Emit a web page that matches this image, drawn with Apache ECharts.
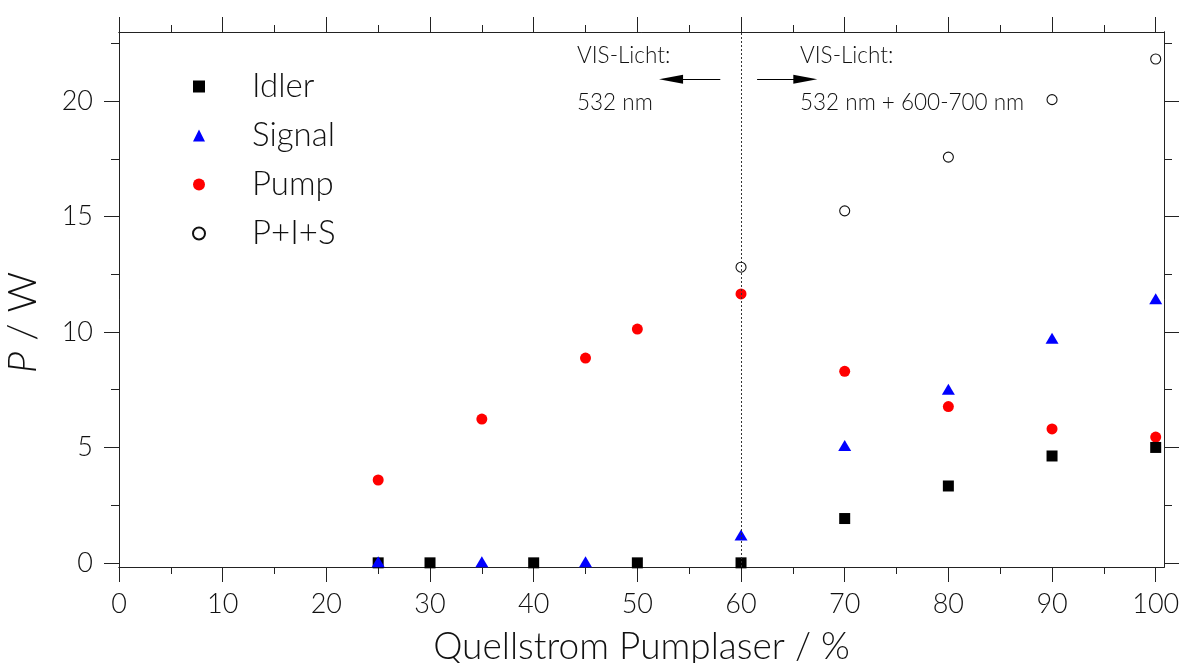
<!DOCTYPE html>
<html>
<head>
<meta charset="utf-8">
<script src="https://cdn.jsdelivr.net/npm/echarts@6/dist/echarts.min.js"></script>
<style>
html,body{margin:0;padding:0;background:#fff;}
#chart{width:1179px;height:663px;}
</style>
</head>
<body>
<div id="chart"></div>
<script>
// ---- data ----
const idlerX  = [25, 30, 40, 50, 60, 70, 80, 90, 100];
const idlerY  = [0, 0, 0, 0, 0, 1.92, 3.33, 4.63, 5.00];
const signalX = [25, 35, 45, 60, 70, 80, 90, 100];
const signalY = [0.05, 0.05, 0.05, 1.21, 5.08, 7.52, 9.73, 11.44];
const pumpX   = [25, 35, 45, 50, 60, 70, 80, 90, 100];
const pumpY   = [3.59, 6.23, 8.87, 10.13, 11.65, 8.30, 6.77, 5.80, 5.45];
const sumX    = [60, 70, 80, 90, 100];
const sumY    = [12.81, 15.25, 17.58, 20.07, 21.83];

const xMajor = [0, 10, 20, 30, 40, 50, 60, 70, 80, 90, 100];
const xMinor = [5, 15, 25, 35, 45, 55, 65, 75, 85, 95];
const yMajor = [0, 5, 10, 15, 20];
const yMinor = [2.5, 7.5, 12.5, 17.5, 22.5];

const seriesNames = ['Idler', 'Signal', 'Pump', 'P+I+S'];
const thresholdX = 60;
const leftNote  = ['VIS-Licht:', '532 nm'];
const rightNote = ['VIS-Licht:', '532 nm + 600-700 nm'];

const zip = (xs, ys) => xs.map((x, i) => [x, ys[i]]);

const FONT = 'Lato';
const FW = 300;
const lineCol = '#222';
const X_MIN = 0, X_MAX = 100.8, Y_MIN = -0.18, Y_MAX = 23;

function xAx(pos, values, len, labels, extra) {
  return Object.assign({
    type: 'value', position: pos, min: X_MIN, max: X_MAX,
    axisLine: { show: true, onZero: false, lineStyle: { color: lineCol, width: 1 } },
    axisTick: { show: true, inside: false, length: len, customValues: values, lineStyle: { color: lineCol, width: 1 } },
    axisLabel: labels ? { show: true, customValues: values, margin: 24, fontFamily: FONT, fontWeight: FW, fontSize: 27, color: '#111' } : { show: false },
    splitLine: { show: false }
  }, extra || {});
}
function yAx(pos, values, len, labels, extra) {
  return Object.assign({
    type: 'value', position: pos, min: Y_MIN, max: Y_MAX,
    axisLine: { show: true, onZero: false, lineStyle: { color: lineCol, width: 1 } },
    axisTick: { show: true, inside: false, length: len, customValues: values, lineStyle: { color: lineCol, width: 1 } },
    axisLabel: labels ? { show: true, customValues: values, margin: 26, fontFamily: FONT, fontWeight: FW, fontSize: 27, color: '#111' } : { show: false },
    splitLine: { show: false }
  }, extra || {});
}

const chart = echarts.init(document.getElementById('chart'), null, { renderer: 'canvas' });

const arrowY = 20.95;
const option = {
  animation: false,
  backgroundColor: '#fff',
  textStyle: { fontFamily: FONT, fontWeight: FW },
  grid: { left: 119, right: 15, top: 32, bottom: 96, containLabel: false, outerBoundsMode: 'none' },
  xAxis: [
    xAx('bottom', xMajor, 15, true, {
      name: 'Quellstrom Pumplaser / %', nameLocation: 'middle', nameGap: 62,
      nameTextStyle: { fontFamily: FONT, fontWeight: FW, fontSize: 37, color: '#111' }
    }),
    xAx('bottom', xMinor, 7, false),
    xAx('top', xMajor, 15, false),
    xAx('top', xMinor, 7, false)
  ],
  yAxis: [
    yAx('left', yMajor, 15, true, {
      name: '{i|P} / W', nameLocation: 'middle', nameGap: 76,
      nameTextStyle: { fontFamily: FONT, fontWeight: FW, fontSize: 40, color: '#111', padding: [0, 46, 0, 0],
        rich: { i: { fontFamily: FONT, fontWeight: FW, fontStyle: 'italic', fontSize: 40, color: '#111' } } }
    }),
    yAx('left', yMinor, 8, false),
    yAx('right', yMajor, 15, false),
    yAx('right', yMinor, 8, false)
  ],
  legend: {
    orient: 'vertical', left: 187, top: 65, itemGap: 16,
    itemWidth: 12, itemHeight: 12,
    data: seriesNames,
    textStyle: { fontFamily: FONT, fontWeight: FW, fontSize: 33, color: '#111', lineHeight: 31, padding: [0, 0, 0, 42] }
  },
  series: [
    { name: seriesNames[0], type: 'scatter', data: zip(idlerX, idlerY), symbol: 'rect', symbolSize: 11,
      itemStyle: { color: '#000', opacity: 1 }, z: 3,
      markLine: {
        silent: true, symbol: ['none', 'none'], label: { show: false },
        lineStyle: { color: '#333', type: [2, 2], width: 1 },
        data: [{ xAxis: thresholdX }]
      } },
    { name: seriesNames[1], type: 'scatter', data: zip(signalX, signalY), symbol: 'triangle', symbolSize: [13, 11],
      itemStyle: { color: '#0000ff', opacity: 1 }, z: 4 },
    { name: seriesNames[2], type: 'scatter', data: zip(pumpX, pumpY), symbol: 'circle', symbolSize: 11,
      itemStyle: { color: '#ff0000', opacity: 1 }, z: 2,
      markLine: {
        silent: true, symbol: ['none', 'triangle'], symbolSize: [9, 24], label: { show: false },
        lineStyle: { color: '#000', type: 'solid', width: 1.2, opacity: 1 },
        itemStyle: { color: '#000' },
        data: [
          [{ coord: [58.0, arrowY] }, { coord: [53.25, arrowY] }],
          [{ coord: [61.55, arrowY] }, { coord: [66.2, arrowY] }]
        ]
      } },
    { name: seriesNames[3], type: 'scatter', data: zip(sumX, sumY), symbol: 'circle', symbolSize: 10,
      itemStyle: { color: 'rgba(255,255,255,0)', borderColor: '#111', borderWidth: 1.1, opacity: 1 }, z: 5 }
  ],
  graphic: [
    { type: 'text', left: 577, top: 44, style: { text: leftNote[0], font: FW + ' 22.5px ' + FONT, fill: '#111' } },
    { type: 'text', left: 577, top: 91, style: { text: leftNote[1], font: FW + ' 22.5px ' + FONT, fill: '#111' } },
    { type: 'text', left: 800, top: 44, style: { text: rightNote[0], font: FW + ' 22.5px ' + FONT, fill: '#111' } },
    { type: 'text', left: 800, top: 91, style: { text: rightNote[1], font: FW + ' 22.5px ' + FONT, fill: '#111' } }
  ]
};
chart.setOption(option);
</script>
</body>
</html>
